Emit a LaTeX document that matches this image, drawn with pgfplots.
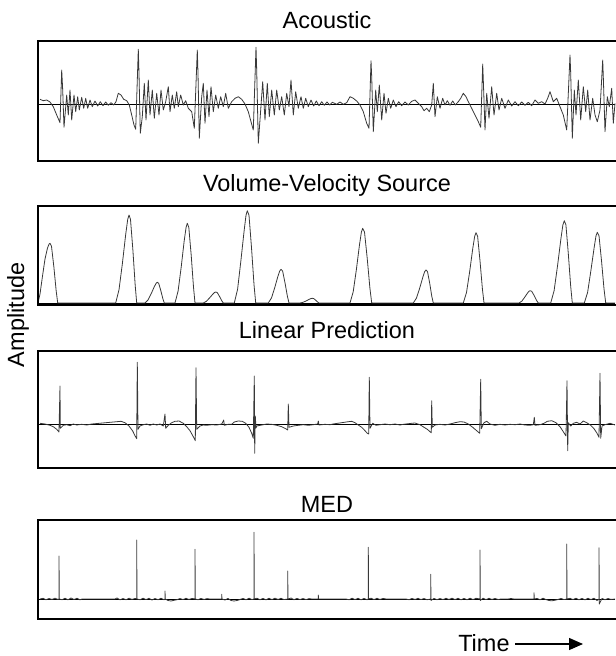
\documentclass[border=0pt]{standalone}
\usepackage{fontspec}
\setmainfont{Liberation Sans}
\usepackage{pgfplots}
\pgfplotsset{compat=1.18}
\usetikzlibrary{arrows.meta}

% one image pixel = 0.75pt; x data are pixel columns, y data are pixels above the zero line
\pgfplotsset{
  panel/.style={scale only axis, width=432.75pt, xmin=38, xmax=615,
    hide axis, clip=false, anchor=north west},
  sig/.style={black!78, line width=0.6pt, line join=round, no markers},
  zero/.style={black, line width=0.6pt, no markers},
}
\newcommand{\frameit}{%
  \draw[line width=1.4pt, line cap=rect]
    (rel axis cs:1,1) -- (rel axis cs:0,1) -- (rel axis cs:0,0) -- (rel axis cs:1,0);}
\newcommand{\ttl}{\fontsize{17.6}{20}\selectfont}

\begin{document}
\begin{tikzpicture}[x=0.75pt, y=-0.75pt]
\path[use as bounding box] (0,0) rectangle (615,656);

% ---- Acoustic
\begin{axis}[panel, at={(28.5pt,-30.75pt)}, height=90pt, ymin=-57, ymax=63]
\addplot[zero] coordinates {(38,0) (615,0)};
\addplot[sig] coordinates {
(40,4.7) (43.3,3.3) (46.7,4) (50,2) (53.3,-2.7) (56.7,-11) (60,-18.7) (61.7,34) (62.7,14)
(64,-23.3) (66.7,9) (68.3,-11) (70,14) (71.7,-16) (74,9) (75.7,-7.7) (77.7,7.3) (79.3,-6)
(81.7,6.7) (83.7,-4.3) (85.7,5.7) (87.7,-4.3) (90,4) (92.3,-2.7) (95,3) (97.7,-2) (100.3,2.3)
(103,-1.7) (105.7,2) (108.3,-1.3) (111,1.3) (113.7,-1) (116,2.3) (118.3,10.7) (121,9)
(123.7,4.7) (126.7,3.3) (129.3,-1) (131.7,-11) (134,-21) (135.7,-25.3) (138.3,54.7) (139,30.7)
(140.3,-29.3) (142.3,-12.7) (144.3,20.7) (146,-16) (148.3,24) (150,-11) (152.3,14) (154.3,-14.3)
(156.7,10.7) (159,-11) (161,14) (163.3,-6) (165.7,2.3) (168.3,17.3) (170,-7.7) (172.3,9)
(174.3,-4.3) (176.7,12.3) (178.3,-2.7) (180.7,9) (183.3,-1) (185.7,3.3) (188.3,-4.3)
(191.7,-7.7) (194.3,-24.3) (197.3,54) (198,30.7) (199.3,-34.3) (201.7,7.3) (203.3,20.7)
(205,-19.3) (207,14) (209,-12.7) (211,17.3) (213.3,-7.7) (215.7,9) (218.3,-4.3) (220.7,7.3)
(223.3,-2.7) (225.7,10.7) (228.3,-4.3) (231.7,2.3) (235,5.7) (238.3,7.3) (241.7,4.7) (245,0)
(248.3,-7.7) (251,-17.7) (253.3,-26) (256,56.7) (256.7,34) (258.3,-39.3) (260.7,-6) (262.7,22.3)
(265,-16) (267.3,20.7) (269.3,-12.7) (271.7,14) (274.3,-11) (276.7,14) (279.3,-6) (281.7,7.3)
(284.3,-11) (286.7,10.7) (289,-2.7) (291,24) (293.3,-11) (295.7,12.3) (298.3,-4.3) (301,7.3)
(303.3,-4.3) (305.7,5.7) (308.3,-2.7) (311,4) (313.7,-2) (316.3,3) (319,-1.7) (321.7,2.3)
(324.3,-1.3) (327,2) (329.7,-1) (332.3,1.7) (336.7,-0.3) (340,2) (343.3,-0.3) (346.7,1.3)
(350,7.3) (353.3,5.7) (356.7,3) (360,-1) (363.3,-7.7) (366.7,-19.3) (369,-24.3) (371,43.3)
(371.7,27.3) (373.3,-27.7) (375.7,14) (377.3,-7.7) (379.3,19) (381.7,-16) (384,10.7) (386,-9.3)
(388.3,5.7) (390.7,-4.3) (393.3,4) (396,-2.7) (398.7,2.3) (401.7,-1.7) (405,2) (408.3,-1)
(411.7,2.7) (415,4) (418.3,0.7) (421.7,-2.7) (424,-6.7) (426.7,-4.3) (429.3,-7.7) (431.7,-1)
(433.3,20.7) (435,-12.7) (437.3,7.3) (440,-4.3) (442.7,5.7) (445,-1) (447.3,3.3) (450,-1.3)
(452.7,3) (455.3,-1) (458.3,2.3) (460.7,5.7) (463.3,10.7) (466,7.3) (468.3,2.3) (471.7,-4.3)
(475,-11) (478.3,-17.7) (480.7,-23.3) (482.7,40) (483.3,24) (485,-26) (486.7,10.7) (489,-14.3)
(491.7,17.3) (494,-11) (496.7,10.7) (499,-6) (501.7,5.7) (505,-4.3) (508.3,4) (511.7,-2)
(515,2.3) (518.3,-1.7) (521.7,2) (525,-1.3) (528.3,1.7) (531.7,-1.7) (535,4) (538.3,0.7)
(541.7,2.3) (545,0) (547.7,5.7) (550,12.3) (553.3,2.3) (556.7,5.7) (560,-2.7) (563.3,-11)
(566.7,-26) (570,49) (570.7,30.7) (572.3,-34.3) (574.3,14) (576,-11) (578.3,24) (580.7,-16)
(583.3,17.3) (585.7,-7.7) (587.7,14) (590,-16) (592.7,5.7) (595,-11) (597.3,-17.7) (600,-6)
(602.7,44) (603.3,27.3) (605,-27.7) (607.3,7.3) (609.3,-2.7) (611.7,15.7) (613.3,-19.3) (615,0.7)
};
\frameit
\end{axis}

% ---- Volume-Velocity Source
\begin{axis}[panel, at={(28.5pt,-154.5pt)}, height=74.25pt, ymin=-2, ymax=97]
\addplot[zero] coordinates {(38,0) (615,0)};
\addplot[sig] coordinates {
(38,0) (40,9) (42.5,26.9) (45,44) (47.5,55) (49,58.7) (50,59.7) (51.5,56.7) (53.9,35.8) (56.2,11.9) (57.7,0)
(115.7,0) (119,13.2) (122.4,39.6) (125.7,68.6) (127.7,83.6) (129,88) (130.5,83.6) (132.9,52.8) (135.2,17.6) (136.7,0)
(145,0) (148.1,3.1) (151.2,9.3) (154.2,16.1) (156.1,19.7) (157.3,20.7) (158.7,19.7) (160.8,12.4) (162.9,4.1) (164.3,0)
(175,0) (178.1,12) (181.2,35.9) (184.2,62.2) (186.1,75.7) (187.3,79.7) (188.8,75.7) (191.2,47.8) (193.5,15.9) (195,0)
(203.3,0) (206.4,1.7) (209.5,5) (212.6,8.6) (214.5,10.5) (215.7,11) (217.2,10.5) (219.5,6.6) (221.8,2.2) (223.3,0)
(234.3,0) (237.6,13.8) (240.8,41.5) (244.1,72) (246,87.7) (247.3,92.3) (249,87.7) (251.5,55.4) (254,18.5) (255.7,0)
(268.3,0) (271.5,5.1) (274.7,15.2) (277.8,26.3) (279.7,32) (281,33.7) (282.6,32) (285,20.2) (287.4,6.7) (289,0)
(300,0) (303.1,0.7) (306.2,2.1) (309.2,3.7) (311.1,4.5) (312.3,4.7) (313.6,4.5) (315.7,2.8) (317.7,0.9) (319,0)
(350,0) (353.2,11.2) (356.4,33.6) (359.5,58.3) (361.4,71) (362.7,74.7) (364.5,71) (367.2,44.8) (369.9,14.9) (371.7,0)
(413.3,0) (416.5,5) (419.7,14.9) (422.8,25.7) (424.7,31.4) (426,33) (427.5,31.4) (429.7,19.8) (431.8,6.6) (433.3,0)
(463.3,0) (466.5,10.5) (469.7,31.6) (472.8,54.8) (474.7,66.8) (476,70.3) (477.6,66.8) (480,42.2) (482.4,14.1) (484,0)
(519,0) (521.8,1.8) (524.5,5.5) (527.3,9.6) (528.9,11.7) (530,12.3) (531.7,11.7) (534.2,7.4) (536.6,2.5) (538.3,0)
(550.7,0) (554.1,12.3) (557.5,37) (560.9,64.2) (562.9,78.2) (564.3,82.3) (565.9,78.2) (568.3,49.4) (570.7,16.5) (572.3,0)
(584.3,0) (587.6,10.6) (590.8,31.8) (594.1,55.1) (596,67.2) (597.3,70.7) (599,67.2) (601.5,42.4) (604,14.1) (605.7,0)
(615,0)
};
\frameit
\end{axis}

% ---- Linear Prediction
\begin{axis}[panel, at={(28.5pt,-263.25pt)}, height=87.75pt, ymin=-44, ymax=73]
\addplot[zero] coordinates {(38,0) (615,0)};
\addplot[sig] coordinates {
(40,0.7) (45,0) (50,-1.3) (53.3,-2.7) (56.7,-5.3) (59,-8) (60,38) (60.3,-4.3) (63.3,-1.3)
(66.7,-0.7) (70,-1.7) (73.3,0) (76.7,-1) (81.7,-0.3) (86.7,-1) (91.7,0) (116.7,2.3) (121,2.7)
(125,1.3) (129,-2) (132.7,-7) (135,-11.7) (136.7,-14.7) (137.3,61.7) (138,-5.3) (140,-2)
(143.3,-0.7) (146.7,0) (150,-1.3) (153.3,0) (156.7,-1) (160,0) (163.3,-2) (165,10) (165.7,-4.3)
(168.3,-1.3) (171.7,1.3) (175,2.7) (179,3) (183.3,0.7) (186.7,-2.7) (190,-6.7) (193.3,-12.7)
(195.3,-16.7) (196,56.3) (196.7,-5.3) (200,-2) (203.3,-1) (206.7,-1.3) (211.7,-0.7) (216.7,-1)
(221.7,0) (223.7,4) (224.3,-1.3) (228.3,-0.3) (231.7,-0.3) (234.3,2) (238.3,3) (242.3,2.7)
(245.7,0.7) (249,-3.3) (251.7,-9.3) (253.3,-14.3) (254.3,48) (254.7,-29.3) (255.3,8) (256,-4)
(256.7,-2) (261.7,-1) (266.7,0) (271.7,-0.3) (276.7,-1.3) (281.7,-2.7) (285.7,-4.7) (287.7,-6)
(288.3,20) (289,-3.3) (293.3,-2) (298.3,-1.3) (303.3,-0.7) (308.3,-1.3) (313.3,-0.7) (317.7,0)
(318.3,3) (319,-1) (325,-0.3) (330,-0.7) (333,0) (348.3,2.3) (351.7,2.7) (355,1.3) (358.3,-1)
(361.7,-3.3) (365,-6.7) (367.3,-9.3) (368.7,-10) (369.3,46.7) (370,-4.3) (372.7,0.7) (376,-1.3)
(380,-0.7) (385,0) (390,-0.7) (395,0) (400,-1) (403.3,-0.3) (411.7,0.7) (415,1) (420,-0.7)
(424,-3.3) (427.3,-5.3) (430,-7.7) (431.3,-8.7) (431.7,23.3) (432.3,-3.3) (435,-1) (440,-0.3)
(445,-1) (450,0) (455,1.3) (460,2.3) (464,2) (468.3,0) (472.7,-3.3) (476.7,-6.7) (479.7,-9.3)
(480.7,44.7) (481.3,-4.7) (484,1.3) (486.7,2.7) (490,0) (495,-1.3) (500,-0.3) (505,-1)
(510,-0.3) (515,-0.7) (520,0) (525,-1) (530,-1.3) (533.3,-0.7) (534.3,6.7) (535,-1.3)
(540,-0.7) (544,0.7) (547.3,2.7) (551.7,3.3) (556,1.3) (560,-2.7) (563.3,-7.7) (566,-12)
(567,43.3) (567.7,-26.7) (568.3,1.3) (570.7,-2) (573.3,0.7) (576.7,1.7) (580,0) (583.3,3)
(586.7,1.3) (590.7,-1.3) (594,-4.7) (596.7,-8.7) (599,-13.3) (600,50.7) (600.7,-14.3) (602,-2)
(605,-0.7) (610,0.7) (615,-1)
};
\frameit
\end{axis}

% ---- MED
\begin{axis}[panel, at={(28.5pt,-390pt)}, height=74.25pt, ymin=-20, ymax=79]
\addplot[zero] coordinates {(38,0) (615,0)};
\addplot[sig] coordinates {
(40,0) (43,0.7) (46,-0.7) (49,0.5) (52,-0.5) (55,0.8) (58,-0.5) (59,0) (59,43) (59.3,0)
(62,-0.7) (65,0.7) (68,-0.8) (71,1) (74,-0.5) (77,0.7) (80,-0.8) (82,0) (115,0) (117,1)
(120,-0.8) (123,0.5) (126,-0.7) (129,0.8) (132,-0.5) (135,0.6) (136.7,0) (136.7,59) (137,0)
(140,-0.7) (143,0.8) (146,-0.6) (149,0.7) (152,-1) (155,0.5) (158,-0.7) (161,0.8) (164,-0.8)
(165,0) (165,8) (165.3,0) (168,-1.5) (171,-2) (174,-1.3) (177,-0.7) (180,0.5) (183,-0.6)
(186,0.7) (189,-0.5) (192,0.6) (195,0) (195,49.7) (195.3,0) (198,-0.7) (201,0.6) (204,-0.5)
(207,0.4) (210,0) (221.7,0) (221.7,4.7) (222,0) (225,-1) (228,0.6) (231,-1.5) (234,-2)
(237,-1.5) (240,-0.5) (243,0.6) (246,-0.7) (249,0.8) (252,-0.6) (254,0) (254,66.7) (254.3,0)
(257,0.8) (260,-0.7) (263,0.6) (266,-0.8) (269,0.7) (272,-0.6) (275,0.8) (278,-0.5) (281,0.7)
(284,-0.6) (287.7,0) (287.7,28) (288,0) (291,1) (294,-0.7) (297,0.6) (300,-0.6) (303,0.5)
(306,-0.6) (309,0.4) (312,0) (318.3,0) (318.3,4) (318.6,0) (346,0) (349,-0.7) (352,0.8)
(355,-0.6) (358,0.7) (361,-0.8) (364,0.6) (367,-0.7) (368.3,0) (368.3,51.7) (368.6,0)
(371,0.8) (374,-0.6) (377,0.7) (380,-0.5) (383,0.6) (386,0) (406,0) (409,-0.7) (412,0.6)
(415,-0.5) (418,0.7) (421,-0.6) (424,0.5) (427,-0.7) (430.7,0) (430.7,24.7) (431,-1.5)
(434,0.6) (437,-0.7) (440,0.5) (443,-0.6) (446,0.7) (449,-0.5) (452,0.8) (455,-0.6) (458,0.7)
(461,-0.8) (464,0.6) (467,-0.7) (470,0.8) (473,-0.6) (476,0.7) (480,0) (480,49) (480.3,-1.5)
(483,0.8) (486,-0.6) (489,0.7) (492,-0.5) (495,0.6) (498,-0.5) (501,0) (508,0) (511,0.5)
(514,0) (531,0) (534,0) (534,6.3) (534.3,0) (537,0.6) (540,-0.7) (543,0.8) (546,-0.6)
(549,-1.5) (552,-1.8) (555,-1.2) (558,-0.5) (561,0.6) (564,-0.6) (566.7,0) (566.7,55)
(567,0) (570,0.7) (573,-0.6) (576,0.8) (579,-0.7) (582,0.6) (585,-0.8) (588,0.7) (591,-0.6)
(594,0.8) (597,-1.5) (599,0) (599,51.3) (599.3,-5) (602,0.6) (605,-0.7) (608,0.5) (611,-0.4) (615,0)
};
\frameit
\end{axis}

\node[anchor=base, font=\ttl] at (327,28.3) {Acoustic};
\node[anchor=base, font=\ttl] at (327,191.7) {Volume-Velocity Source};
\node[anchor=base, font=\ttl] at (327,338.3) {Linear Prediction};
\node[anchor=base, font=\ttl] at (327,512) {MED};
\node[rotate=90, font=\ttl] at (18,315) {Amplitude};
\node[anchor=base west, font=\ttl, inner sep=0pt] at (458,651.7) {Time};
\draw[line width=1pt, -{Triangle[length=10.5pt, width=9pt]}] (515,644) -- (583,644);
\end{tikzpicture}
\end{document}
